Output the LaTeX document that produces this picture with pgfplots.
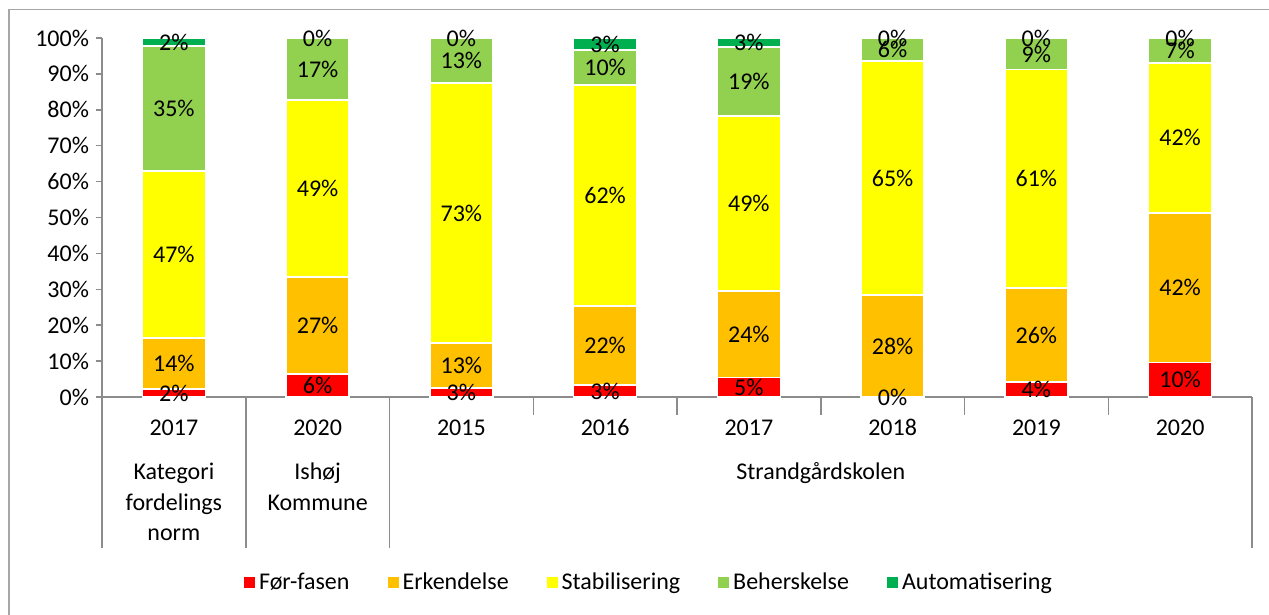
\documentclass[border=0pt]{standalone}
\usepackage{pgfplots}
\pgfplotsset{compat=1.18}
\usepackage{pgfplotstable}
\usepackage{fontspec}
\setmainfont{Carlito}
\definecolor{cFor}{HTML}{FF0000}
\definecolor{cErk}{HTML}{FFC000}
\definecolor{cSta}{HTML}{FFFF00}
\definecolor{cBeh}{HTML}{92D050}
\definecolor{cAut}{HTML}{00B050}
\definecolor{axisgray}{HTML}{8C8C8C}
\definecolor{framegray}{HTML}{A6A6A6}

% segment values (percent)
\pgfplotstableread{
x fr er st be au
0 2.2 14.2 46.6 34.8 2.2
1 6.4 27.0 49.3 17.3 0
2 2.5 12.5 72.5 12.5 0
3 3.3 22.0 61.6 9.8 3.3
4 5.5 24.0 48.8 19.2 2.5
5 0 28.4 65.2 6.4 0
6 4.2 26.1 60.9 8.8 0
7 9.6 41.7 41.8 6.9 0
}\data

% data labels: position (segment middle) and shown value
\pgfplotstableread{
x y lab
0 1.1 2
0 9.3 14
0 39.7 47
0 80.4 35
0 98.9 2
1 3.2 6
1 19.9 27
1 58.05 49
1 91.35 17
1 100 0
2 1.25 3
2 8.75 13
2 51.25 73
2 93.75 13
2 100 0
3 1.65 3
3 14.3 22
3 56.1 62
3 91.8 10
3 98.35 3
4 2.75 5
4 17.5 24
4 53.9 49
4 87.9 19
4 98.75 3
5 0 0
5 14.2 28
5 61 65
5 96.8 6
5 100 0
6 2.1 4
6 17.25 26
6 60.75 61
6 95.4 9
6 100 0
7 4.8 10
7 30.45 42
7 72.2 42
7 96.55 7
7 100 0
}\labels

\begin{document}
\begin{tikzpicture}[font=\fontsize{12}{14.4}\selectfont]
\useasboundingbox (-51pt,-109pt) rectangle (583.5pt,198.5pt);
\draw[framegray, line width=0.75pt] (-46.5pt,-109pt) -- (-46.5pt,193.75pt) -- (583.5pt,193.75pt);
\begin{axis}[
  at={(0,0)}, anchor=south west,
  scale only axis, width=575pt, height=179.5pt,
  ybar stacked, bar width=31.5pt,
  xmin=-0.5, xmax=7.5, ymin=0, ymax=100,
  clip=false,
  axis x line*=bottom, axis y line*=left,
  axis line style={draw=axisgray, line width=0.75pt},
  xtick=\empty,
  ytick={0,10,...,100},
  yticklabel={\pgfmathprintnumber{\tick}\%},
  /pgf/number format/assume math mode=true,
  tick align=outside, major tick length=3pt,
  ytick style={draw=axisgray, line width=0.75pt},
  tick label style={font=\fontsize{12}{14.4}\selectfont},
  legend style={at={(0.4765,-0.518)}, anchor=center, draw=none, fill=none,
    legend columns=5, /tikz/every even column/.append style={column sep=17pt},
    font=\fontsize{12}{14.4}\selectfont},
  legend image code/.code={\fill[#1, draw=none] (0pt,-2.75pt) rectangle (5.5pt,2.75pt);},
]
\addplot[fill=cFor, draw=white, line width=0.75pt] table[x=x, y=fr]{\data};
\addplot[fill=cErk, draw=white, line width=0.75pt] table[x=x, y=er]{\data};
\addplot[fill=cSta, draw=white, line width=0.75pt] table[x=x, y=st]{\data};
\addplot[fill=cBeh, draw=white, line width=0.75pt] table[x=x, y=be]{\data};
\addplot[fill=cAut, draw=white, line width=0.75pt] table[x=x, y=au]{\data};
\legend{Før-fasen, Erkendelse, Stabilisering, Beherskelse, Automatisering}

% category dividers
\draw[axisgray, line width=0.75pt] (axis cs:-0.5,0) -- ([yshift=-75.5pt]axis cs:-0.5,0);
\draw[axisgray, line width=0.75pt] (axis cs:0.5,0) -- ([yshift=-75.5pt]axis cs:0.5,0);
\draw[axisgray, line width=0.75pt] (axis cs:1.5,0) -- ([yshift=-75.5pt]axis cs:1.5,0);
\draw[axisgray, line width=0.75pt] (axis cs:7.5,0) -- ([yshift=-75.5pt]axis cs:7.5,0);
\draw[axisgray, line width=0.75pt] (axis cs:2.5,0) -- ([yshift=-9pt]axis cs:2.5,0);
\draw[axisgray, line width=0.75pt] (axis cs:3.5,0) -- ([yshift=-9pt]axis cs:3.5,0);
\draw[axisgray, line width=0.75pt] (axis cs:4.5,0) -- ([yshift=-9pt]axis cs:4.5,0);
\draw[axisgray, line width=0.75pt] (axis cs:5.5,0) -- ([yshift=-9pt]axis cs:5.5,0);
\draw[axisgray, line width=0.75pt] (axis cs:6.5,0) -- ([yshift=-9pt]axis cs:6.5,0);
% year labels
\node[anchor=base] at ([yshift=-19.25pt]axis cs:0,0) {2017};
\node[anchor=base] at ([yshift=-19.25pt]axis cs:1,0) {2020};
\node[anchor=base] at ([yshift=-19.25pt]axis cs:2,0) {2015};
\node[anchor=base] at ([yshift=-19.25pt]axis cs:3,0) {2016};
\node[anchor=base] at ([yshift=-19.25pt]axis cs:4,0) {2017};
\node[anchor=base] at ([yshift=-19.25pt]axis cs:5,0) {2018};
\node[anchor=base] at ([yshift=-19.25pt]axis cs:6,0) {2019};
\node[anchor=base] at ([yshift=-19.25pt]axis cs:7,0) {2020};
% group labels
\node[anchor=base] at ([yshift=-41.25pt]axis cs:0,0) {Kategori};
\node[anchor=base] at ([yshift=-56.75pt]axis cs:0,0) {fordelings};
\node[anchor=base] at ([yshift=-71.75pt]axis cs:0,0) {norm};
\node[anchor=base] at ([yshift=-41.25pt]axis cs:1,0) {Ishøj};
\node[anchor=base] at ([yshift=-56.75pt]axis cs:1,0) {Kommune};
\node[anchor=base] at ([yshift=-41.25pt]axis cs:4.5,0) {Strandgårdskolen};
\end{axis}
% overlay axis for the data labels
\begin{axis}[
  at={(0,0)}, anchor=south west,
  scale only axis, width=575pt, height=179.5pt,
  xmin=-0.5, xmax=7.5, ymin=0, ymax=100,
  hide axis, clip=false,
]
\addplot[draw=none, mark=none, nodes near coords={\pgfplotspointmeta\%},
  point meta=explicit symbolic,
  every node near coord/.style={anchor=center, inner sep=0pt, text=black,
    font=\fontsize{12}{14.4}\selectfont}]
  table[x=x, y=y, meta=lab]{\labels};
\end{axis}
\end{tikzpicture}
\end{document}
